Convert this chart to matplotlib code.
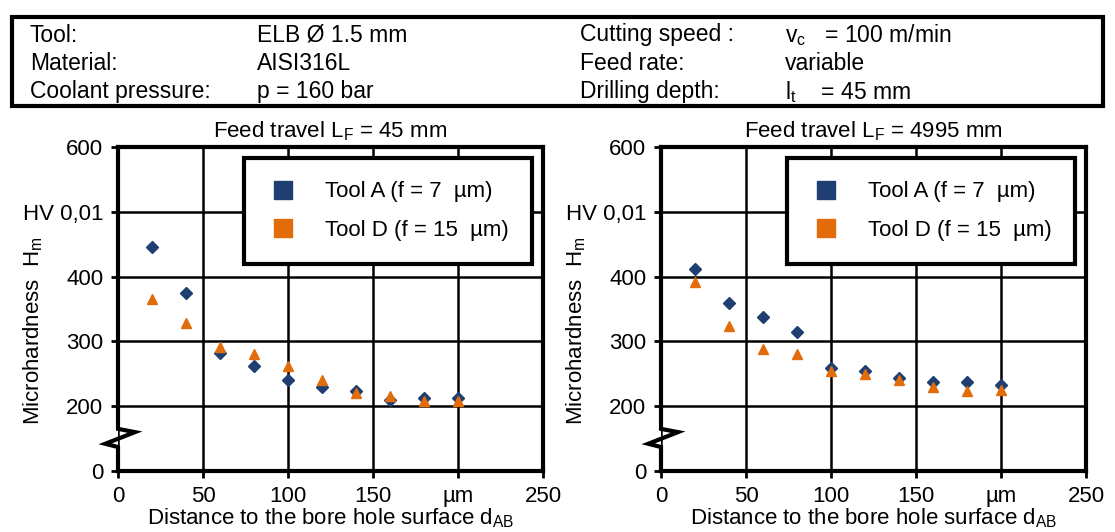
import matplotlib.pyplot as plt
from matplotlib.lines import Line2D
from matplotlib.patches import Rectangle

plt.rcParams['font.family'] = ['Liberation Sans', 'DejaVu Sans']
plt.rcParams['mathtext.fontset'] = 'custom'
plt.rcParams['mathtext.rm'] = 'Liberation Sans'

# measuring positions (distance to bore hole surface, um)
dist = [20, 40, 60, 80, 100, 120, 140, 160, 180, 200]

# microhardness HV 0,01, feed travel 45 mm
hm_a_45 = [446, 375, 282, 262, 240, 229, 224, 209, 213, 213]
hm_d_45 = [366, 328, 292, 281, 262, 240, 220, 216, 208, 208]

# microhardness HV 0,01, feed travel 4995 mm
hm_a_4995 = [411, 360, 337, 314, 259, 255, 243, 238, 237, 232]
hm_d_4995 = [392, 323, 288, 281, 254, 250, 241, 230, 223, 225]

panel_titles = [r"Feed travel L$_\mathregular{F}$ = 45 mm",
                r"Feed travel L$_\mathregular{F}$ = 4995 mm"]
legend_labels = ["Tool A (f = 7  \u00b5m)", "Tool D (f = 15  \u00b5m)"]

xticks = [0, 50, 100, 150, 200, 250]
xticklabels = ["0", "50", "100", "150", "\u00b5m", "250"]
# y axis is broken: the lowest tick (drawn at 100) is labelled 0
yticks = [100, 200, 300, 400, 500, 600]
yticklabels = ["0", "200", "300", "400", "HV 0,01", "600"]

BLUE = "#1f3f73"
ORANGE = "#e36c0a"
FS = 16

fig = plt.figure(figsize=(11.15, 5.32), dpi=100)

# parameter box on top
fig.patches.append(Rectangle((12/1115, 1-106/532), 1091/1115, 89/532,
                             transform=fig.transFigure, fill=False,
                             edgecolor='black', linewidth=3))
rows_y = [35, 63, 92]
left_col = [("Tool:", "ELB \u00d8 1.5 mm"),
            ("Material:", "AISI316L"),
            ("Coolant pressure:", "p = 160 bar")]
right_col = [("Cutting speed :", r"v$_\mathregular{c}$   = 100 m/min"),
             ("Feed rate:", "variable"),
             ("Drilling depth:", r"l$_\mathregular{t}$    = 45 mm")]
for yy, (a, b), (c, d) in zip(rows_y, left_col, right_col):
    fy = 1 - yy/532
    fig.text(30/1115, fy, a, fontsize=FS + 0.5, va='center')
    fig.text(257/1115, fy, b, fontsize=FS + 0.5, va='center')
    fig.text(580/1115, fy, c, fontsize=FS + 0.5, va='center')
    fig.text(785/1115, fy, d, fontsize=FS + 0.5, va='center')

panels = [(118, hm_a_45, hm_d_45), (661, hm_a_4995, hm_d_4995)]
for i, (x0, hm_a, hm_d) in enumerate(panels):
    ax = fig.add_axes([x0/1115, 1-471/532, 425/1115, 324/532])
    ax.set_xlim(0, 250)
    ax.set_ylim(100, 600)
    ax.set_xticks(xticks)
    ax.set_xticklabels(xticklabels)
    ax.set_yticks(yticks)
    ax.set_yticklabels(yticklabels)
    ax.tick_params(direction='out', length=5, width=2, labelsize=FS, pad=5.5)
    ax.grid(True, color='black', linewidth=1.8)
    ax.set_axisbelow(True)
    for s in ['top', 'right', 'bottom']:
        ax.spines[s].set_linewidth(3)
    ax.spines['left'].set_visible(False)

    # left spine with axis break zigzag
    ax.plot([0, 0, 10, -7.5, 0, 0], [600, 165, 160, 142, 137, 100],
            color='black', lw=3, clip_on=False, zorder=5,
            solid_joinstyle='miter')

    ax.plot(dist, hm_a, ls='', marker='D', ms=6.5, color=BLUE, zorder=4)
    ax.plot(dist, hm_d, ls='', marker='^', ms=7.5, color=ORANGE, zorder=4)

    ax.set_title(panel_titles[i], fontsize=FS, pad=7)
    ax.set_xlabel(r"Distance to the bore hole surface d$_\mathregular{AB}$",
                  fontsize=FS, labelpad=0)
    fig.text((x0 - 85)/1115, 1-331/532, r"Microhardness  H$_\mathregular{m}$",
             rotation=90, fontsize=FS, ha='center', va='center')

    handles = [Line2D([], [], ls='', marker='s', ms=13, color=BLUE),
               Line2D([], [], ls='', marker='s', ms=13, color=ORANGE)]
    leg = ax.legend(handles, legend_labels, loc='upper right',
                    bbox_to_anchor=(0.974, 0.966), fontsize=FS,
                    fancybox=False, framealpha=1, edgecolor='black',
                    borderpad=1.05, handletextpad=1.2, labelspacing=0.8,
                    borderaxespad=0, handlelength=1.4)
    leg.get_frame().set_linewidth(3)
    leg.set_zorder(6)

plt.savefig("out.png", dpi=100)
